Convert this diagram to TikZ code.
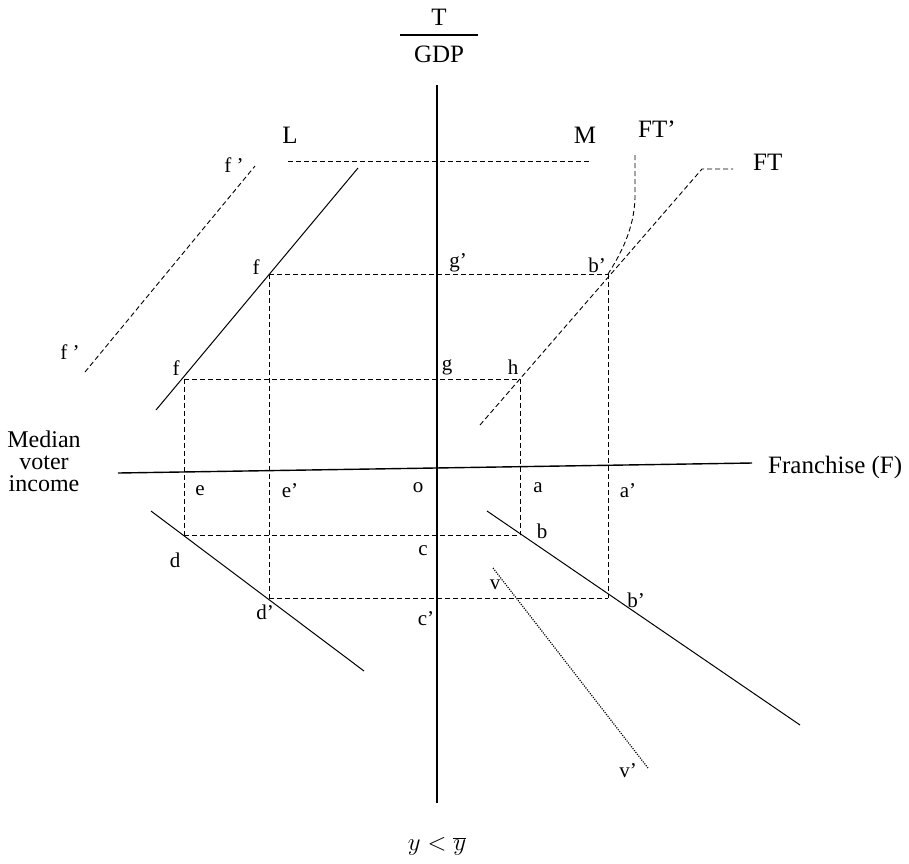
\documentclass[tikz,border=0pt]{standalone}
\usepackage{fontspec}
\setmainfont{Liberation Serif}
\begin{document}
\begin{tikzpicture}[x=1pt,y=-1pt,
  ax/.style={line width=1.4pt},
  sol/.style={line width=1pt},
  dsh/.style={line width=0.9pt,dash pattern=on 5pt off 3pt},
  dot/.style={line width=1.2pt,dash pattern=on 1.1pt off 1.3pt},
  big/.style={inner sep=0pt,font=\fontsize{25}{25}\selectfont},
  lab/.style={inner sep=0pt,font=\fontsize{21}{21}\selectfont}]
\useasboundingbox (0,0) rectangle (909,863);
% axes
\coordinate (vt) at (437,85); \coordinate (vb) at (437,803);
\coordinate (hl) at (118,473); \coordinate (hr) at (752,463);
\draw[ax] (vt) -- (vb);
\draw[ax] (hl) -- (hr);
% T/GDP
\node[big] (T) at (439,17) {T};
\coordinate (fl) at (400,35); \coordinate (fr) at (478,35);
\draw[line width=1.6pt] (fl) -- (fr);
\node[big] (GDP) at (439,54) {GDP};
% L-M
\node[big] (L) at (290,135) {L};
\node[big] (M) at (585,135) {M};
\coordinate (lm1) at (288,161); \coordinate (lm2) at (590,161);
\draw[dsh] (lm1) -- (lm2);
% FT' and FT
\node[big,anchor=west] (FTp) at (638,129) {FT’};
\node[big,anchor=west] (FT) at (753,162) {FT};
\coordinate (ftp1) at (635,155); \coordinate (ftp2) at (608,274);
\draw[dsh] (ftp1) -- (635,198) .. controls (634,230) and (620,255) .. (ftp2);
\coordinate (ft1) at (480,425); \coordinate (ft2) at (702,169); \coordinate (ft3) at (733,169);
\draw[dsh] (ft1) -- (ft2) -- (ft3);
% L solid line and f' dashed
\coordinate (L1) at (156,410); \coordinate (L2) at (358,168);
\draw[sol] (L1) -- (L2);
\coordinate (fp1) at (85,372); \coordinate (fp2) at (255,166);
\draw[dsh] (fp1) -- (fp2);
% box corners
\coordinate (fU) at (269,274); \coordinate (bU) at (608,274);
\coordinate (fL) at (184,379); \coordinate (hL) at (520,379);
\coordinate (dL) at (184,535); \coordinate (bL) at (520,535);
\coordinate (dU) at (269,598); \coordinate (bD) at (608,598);
\draw[dsh] (fU) -- (bU);
\draw[dsh] (fL) -- (hL);
\draw[dsh] (dL) -- (bL);
\draw[dsh] (dU) -- (bD);
\draw[dsh] (fU) -- (dU);
\draw[dsh] (bU) -- (bD);
\draw[dsh] (fL) -- (dL);
\draw[dsh] (hL) -- (bL);
% lower lines
\coordinate (ll1) at (151,511); \coordinate (ll2) at (364,671);
\draw[sol] (ll1) -- (ll2);
\coordinate (lr1) at (487,511); \coordinate (lr2) at (800,725);
\draw[sol] (lr1) -- (lr2);
\coordinate (v1) at (493,568); \coordinate (v2) at (648,768);
\draw[dot] (v1) -- (v2);
% labels
\node[lab] (fp1l) at (70,352) {f ’};
\node[lab] (fp2l) at (234,165) {f ’};
\node[lab] (fUl) at (256,267) {f};
\node[lab] (fLl) at (176,368) {f};
\node[lab] (gpl) at (458,263) {g’};
\node[lab] (gl) at (447,367) {g};
\node[lab] (hl2) at (513,367) {h};
\node[lab] (bUl) at (597,265) {b’};
\node[lab] (el) at (200,491) {e};
\node[lab] (epl) at (290,491) {e'};
\node[lab] (ol) at (418,488) {o};
\node[lab] (al) at (538,488) {a};
\node[lab] (apl) at (628,491) {a’};
\node[lab] (bl) at (542,531) {b};
\node[lab] (dl) at (175,560) {d};
\node[lab] (cl) at (423,551) {c};
\node[lab] (vl) at (495,585) {v};
\node[lab] (bDl) at (636,600) {b’};
\node[lab] (dpl) at (265,612) {d’};
\node[lab] (cpl) at (426,619) {c’};
\node[lab] (vpl) at (628,771) {v’};
\node[big,align=center,font=\fontsize{24}{22}\selectfont] (mvi) at (44,461) {Median\\voter\\income};
\node[big,anchor=west] (fr) at (768,467) {Franchise (F)};
\node[big,font=\fontsize{26}{26}\selectfont] (ybar) at (437,846) {$y<\overline{y}$};
\end{tikzpicture}
\end{document}
